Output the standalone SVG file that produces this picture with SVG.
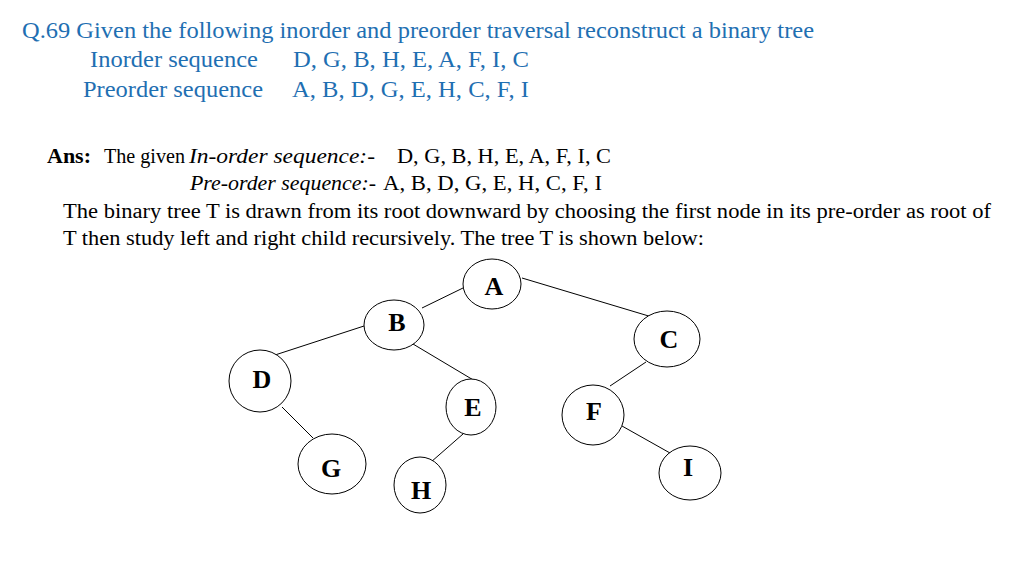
<svg xmlns="http://www.w3.org/2000/svg" width="1024" height="576" viewBox="0 0 1024 576">
<style>
.q{font-family:"Liberation Serif",serif;font-size:23px;fill:#1f6fb2}
.t{font-family:"Liberation Serif",serif;font-size:20px;fill:#000}
.i{font-style:italic}
.n ellipse{fill:#fff;stroke:#000;stroke-width:1}
.n text{font-family:"Liberation Serif",serif;font-size:26px;font-weight:bold;text-anchor:middle;fill:#000}
#edges line{stroke:#000;stroke-width:1}
</style>
<rect width="1024" height="576" fill="#fff"/>
<text class="q" x="22" y="38" textLength="792" lengthAdjust="spacingAndGlyphs">Q.69 Given the following inorder and preorder traversal reconstruct a binary tree</text>
<text class="q" x="90" y="67" textLength="168" lengthAdjust="spacingAndGlyphs">Inorder sequence</text>
<text class="q" x="293" y="67" textLength="236" lengthAdjust="spacingAndGlyphs">D, G, B, H, E, A, F, I, C</text>
<text class="q" x="83" y="97" textLength="180" lengthAdjust="spacingAndGlyphs">Preorder sequence</text>
<text class="q" x="292" y="97" textLength="237" lengthAdjust="spacingAndGlyphs">A, B, D, G, E, H, C, F, I</text>
<text class="t" x="47" y="163" font-weight="bold" textLength="44" lengthAdjust="spacingAndGlyphs">Ans:</text>
<text class="t" x="104" y="163" textLength="81" lengthAdjust="spacingAndGlyphs">The given</text>
<text class="t i" x="189" y="163" textLength="186" lengthAdjust="spacingAndGlyphs">In-order sequence:-</text>
<text class="t" x="397" y="163" textLength="214" lengthAdjust="spacingAndGlyphs">D, G, B, H, E, A, F, I, C</text>
<text class="t i" x="190" y="190" textLength="186" lengthAdjust="spacingAndGlyphs">Pre-order sequence:-</text>
<text class="t" x="383" y="190" textLength="219" lengthAdjust="spacingAndGlyphs">A, B, D, G, E, H, C, F, I</text>
<text class="t" x="63" y="218" textLength="928" lengthAdjust="spacingAndGlyphs">The binary tree T is drawn from its root downward by choosing the first node in its pre-order as root of</text>
<text class="t" x="63" y="245" textLength="641" lengthAdjust="spacingAndGlyphs">T then study left and right child recursively. The tree T is shown below:</text>
<g id="edges">
<line x1="463" y1="288" x2="422" y2="308"/>
<line x1="522" y1="278" x2="652" y2="317"/>
<line x1="364" y1="326" x2="275" y2="355"/>
<line x1="413" y1="344" x2="475" y2="381"/>
<line x1="282" y1="407" x2="313" y2="438"/>
<line x1="463" y1="434" x2="431" y2="462"/>
<line x1="646" y1="362" x2="610" y2="386"/>
<line x1="622" y1="426" x2="670" y2="453"/>
</g>
<g id="A" class="n"><ellipse cx="492" cy="284" rx="29" ry="25"/><text x="494" y="295">A</text></g>
<g id="B" class="n"><ellipse cx="394" cy="325" rx="30" ry="25"/><text x="397" y="331">B</text></g>
<g id="C" class="n"><ellipse cx="667" cy="339" rx="33" ry="28"/><text x="669" y="348">C</text></g>
<g id="D" class="n"><ellipse cx="260" cy="381" rx="31" ry="31"/><text x="262" y="388">D</text></g>
<g id="E" class="n"><ellipse cx="471" cy="407" rx="25" ry="28"/><text x="473" y="416">E</text></g>
<g id="F" class="n"><ellipse cx="593" cy="415" rx="31" ry="30"/><text x="594" y="420">F</text></g>
<g id="G" class="n"><ellipse cx="332" cy="464" rx="34" ry="30"/><text x="331" y="477">G</text></g>
<g id="H" class="n"><ellipse cx="420" cy="485" rx="26" ry="28"/><text x="421" y="499">H</text></g>
<g id="I" class="n"><ellipse cx="690" cy="473" rx="31" ry="27"/><text x="688" y="476">I</text></g>
</svg>
